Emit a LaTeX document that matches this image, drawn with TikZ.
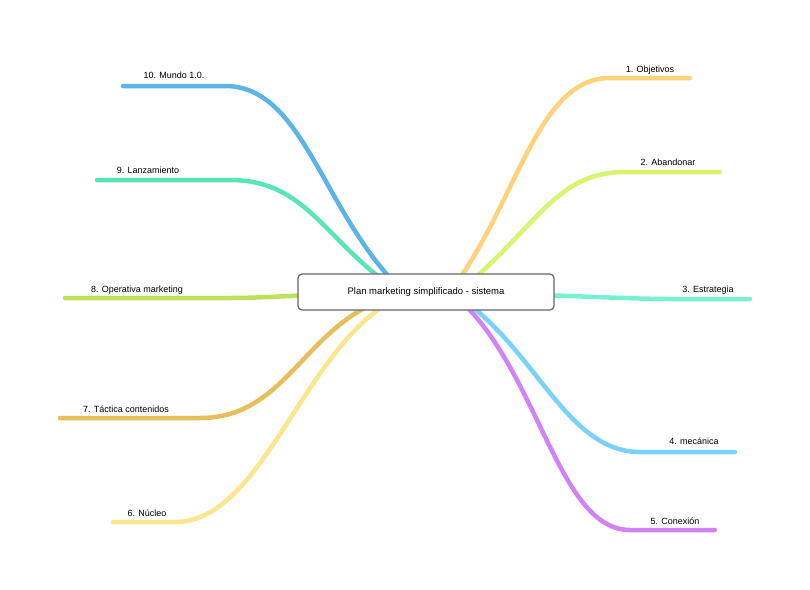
\documentclass[tikz,border=0pt]{standalone}
\usepackage{fontspec}
\setmainfont{Liberation Sans}
\usepackage{xcolor}
\usetikzlibrary{positioning}
\definecolor{cObj}{RGB}{253,210,120}
\definecolor{cAba}{RGB}{215,245,110}
\definecolor{cEst}{RGB}{120,240,210}
\definecolor{cMec}{RGB}{120,210,250}
\definecolor{cCon}{RGB}{210,130,245}
\definecolor{cNuc}{RGB}{250,230,140}
\definecolor{cTac}{RGB}{230,190,90}
\definecolor{cOpe}{RGB}{190,225,90}
\definecolor{cLan}{RGB}{90,230,180}
\definecolor{cMun}{RGB}{90,180,230}
\tikzset{
  branch/.style={line width=4.5pt,line cap=round,draw=#1},
  leaf/.style={font=\fontsize{9}{11}\selectfont,inner sep=1pt},
  topic/.style={draw=gray!80!black,line width=1.2pt,rounded corners=4pt,fill=white,
    minimum width=256pt,minimum height=36pt,font=\fontsize{9.5}{11}\selectfont}
}
\begin{document}
\begin{tikzpicture}[x=1pt,y=-1pt]
\useasboundingbox (0,0) rectangle (810,589);

% labels
\node[leaf] (obj) at (650,70) {1. Objetivos};
\node[leaf] (aba) at (668,162) {2. Abandonar};
\node[leaf] (est) at (708,290) {3. Estrategia};
\node[leaf] (mec) at (694,441) {4. mecánica};
\node[leaf] (con) at (675,521) {5. Conexión};
\node[leaf] (nuc) at (147,513) {6. Núcleo};
\node[leaf] (tac) at (126,409) {7. Táctica contenidos};
\node[leaf] (ope) at (137,290) {8. Operativa marketing};
\node[leaf] (lan) at (148,170) {9. Lanzamiento};
\node[leaf] (mun) at (174,75) {10. Mundo 1.0.};

% branches
\draw[branch=cObj] (460,278) .. controls (520,190) and (540,78) .. (610,78) -- (690,78);
\draw[branch=cAba] (475,278) .. controls (540,220) and (560,172) .. (625,172) -- (720,172);
\draw[branch=cEst] (540,295) .. controls (600,297) and (640,299) .. (670,299) -- (750,299);
\draw[branch=cMec] (470,305) .. controls (540,360) and (570,452) .. (640,452) -- (735,452);
\draw[branch=cCon] (465,305) .. controls (540,380) and (560,530) .. (630,530) -- (715,530);
\draw[branch=cNuc] (385,305) .. controls (300,360) and (260,522) .. (175,522) -- (113,522);
\draw[branch=cTac] (370,305) .. controls (300,340) and (280,418) .. (200,418) -- (60,418);
\draw[branch=cOpe] (310,295) .. controls (270,297) and (250,298) .. (230,298) -- (65,298);
\draw[branch=cLan] (380,278) .. controls (320,230) and (300,180) .. (230,180) -- (97,180);
\draw[branch=cMun] (390,278) .. controls (320,200) and (300,86) .. (225,86) -- (123,86);

% central topic
\node[topic] (plan) at (426,292) {Plan marketing simplificado - sistema};
\end{tikzpicture}
\end{document}
